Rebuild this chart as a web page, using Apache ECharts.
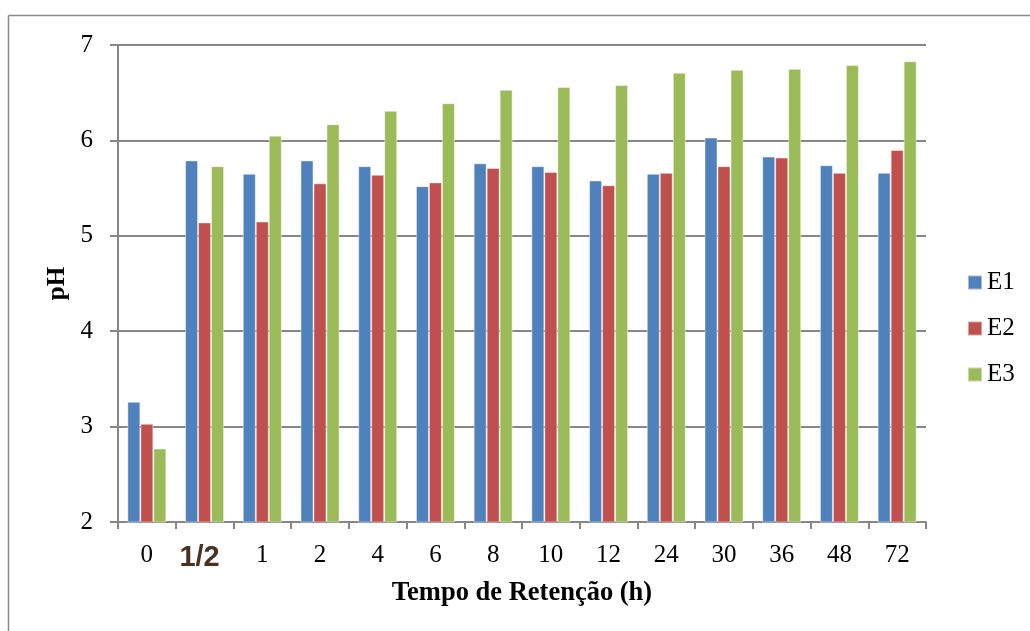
<!DOCTYPE html>
<html>
<head>
<meta charset="utf-8">
<script src="https://cdn.jsdelivr.net/npm/echarts@6/dist/echarts.min.js"></script>
<style>
  html, body { margin: 0; padding: 0; background: #fff; }
  #chart { width: 1030px; height: 631px; }
</style>
</head>
<body>
<div id="chart"></div>
<script>
// Retention times (h) on the category axis
const categories = ['0', '1/2', '1', '2', '4', '6', '8', '10', '12', '24', '30', '36', '48', '72'];

// pH readings for each experiment
const e1 = [3.26, 5.79, 5.65, 5.79, 5.73, 5.52, 5.76, 5.73, 5.58, 5.65, 6.03, 5.83, 5.74, 5.66];
const e2 = [3.03, 5.14, 5.15, 5.55, 5.64, 5.56, 5.71, 5.67, 5.53, 5.66, 5.73, 5.82, 5.66, 5.90];
const e3 = [2.77, 5.73, 6.05, 6.17, 6.31, 6.39, 6.53, 6.56, 6.58, 6.71, 6.74, 6.75, 6.79, 6.83];

const yTicks = [2, 3, 4, 5, 6, 7];

const serif = '"Liberation Serif", "Times New Roman", serif';
const gridColor = '#878787';

const chart = echarts.init(document.getElementById('chart'), null, { renderer: 'canvas' });

function barSeries(name, data, color) {
  return {
    name: name,
    type: 'bar',
    data: data,
    barWidth: 13,
    barGap: '0%',
    itemStyle: { color: color, borderColor: 'rgba(255,255,255,0.45)', borderWidth: 1 }
  };
}

chart.setOption({
  animation: false,
  backgroundColor: '#ffffff',
  graphic: [
    { type: 'line', shape: { x1: 8.5, y1: 15.5, x2: 1030, y2: 15.5 }, style: { stroke: '#8a8a8a', lineWidth: 1.5 } },
    { type: 'line', shape: { x1: 8.5, y1: 15.5, x2: 8.5, y2: 631 }, style: { stroke: '#8a8a8a', lineWidth: 1.5 } }
  ],
  grid: { left: 118, right: 104, top: 45, bottom: 109, containLabel: false },
  legend: {
    orient: 'vertical',
    left: 962,
    top: 265,
    padding: 5,
    itemWidth: 14,
    itemHeight: 14,
    itemGap: 21,
    icon: 'rect',
    textStyle: { fontFamily: serif, fontSize: 25, color: '#000' },
    data: ['E1', 'E2', 'E3']
  },
  xAxis: {
    type: 'category',
    data: categories,
    boundaryGap: true,
    name: 'Tempo de Retenção (h)',
    nameLocation: 'middle',
    nameGap: 58,
    nameTextStyle: { fontFamily: serif, fontSize: 26.5, fontWeight: 'bold', color: '#000' },
    axisLine: { lineStyle: { color: gridColor, width: 2 } },
    axisTick: { show: true, length: 7, alignWithLabel: false, lineStyle: { color: gridColor, width: 2 } },
    axisLabel: {
      interval: 0,
      fontFamily: serif, fontSize: 25, color: '#000', margin: 21,
      formatter: function (v) { return v === '1/2' ? '{half|' + v + '}' : v; },
      rich: {
        half: {
          fontFamily: '"Liberation Sans", Arial, sans-serif',
          fontSize: 29, fontWeight: 'bold', color: '#4a3220',
          padding: [0, 10, 7, 0]
        }
      }
    }
  },
  yAxis: {
    type: 'value',
    min: yTicks[0],
    max: yTicks[yTicks.length - 1],
    interval: 1,
    name: 'pH',
    nameLocation: 'middle',
    nameGap: 47,
    nameRotate: 90,
    nameTextStyle: { fontFamily: serif, fontSize: 25, fontWeight: 'bold', color: '#000' },
    axisLine: { show: true, lineStyle: { color: gridColor, width: 2 } },
    axisTick: { show: true, length: 8, lineStyle: { color: gridColor, width: 2 } },
    axisLabel: { fontFamily: serif, fontSize: 25, color: '#000', margin: 25 },
    splitLine: { show: true, lineStyle: { color: gridColor, width: 2 } }
  },
  series: [
    barSeries('E1', e1, '#4F81BD'),
    barSeries('E2', e2, '#C0504D'),
    barSeries('E3', e3, '#9BBB59')
  ]
});
</script>
</body>
</html>
